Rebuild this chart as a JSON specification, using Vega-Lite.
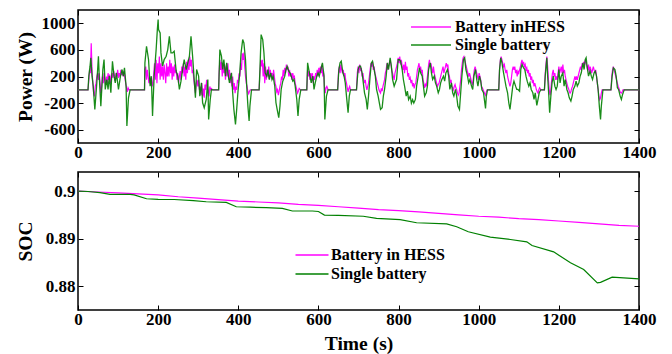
{
"$schema": "https://vega.github.io/schema/vega-lite/v6.json",
"padding": {"left": 14, "top": 8, "right": 5, "bottom": 0},
"background": "white",
"config": {
 "view": {"stroke": "#000", "strokeWidth": 1.5},
 "axis": {"labelFont": "Liberation Serif", "labelFontWeight": "bold", "labelFontSize": 17, "labelColor": "#000", "titleFont": "Liberation Serif", "titleFontWeight": "bold", "titleFontSize": 19.5, "titleColor": "#000", "tickColor": "#000", "tickSize": -5, "tickWidth": 1, "domain": false, "grid": false, "labelPadding": 8, "labelFlush": false, "labelOverlap": false},
 "legend": {"labelFont": "Liberation Serif", "labelFontWeight": "bold", "labelFontSize": 16, "labelColor": "#000", "padding": 0, "symbolType": "M-3,0H3", "symbolStrokeWidth": 1.5, "title": null, "rowPadding": 2}
},
"datasets": {
"pg": [{"t":0,"v":0},{"t":25,"v":0},{"t":27,"v":205},{"t":30,"v":355},{"t":32,"v":480},{"t":35,"v":205},{"t":38,"v":55},{"t":42,"v":-295},{"t":47,"v":105},{"t":51,"v":505},{"t":53,"v":205},{"t":57,"v":-245},{"t":62,"v":305},{"t":65,"v":455},{"t":68,"v":5},{"t":72,"v":155},{"t":75,"v":5},{"t":78,"v":205},{"t":82,"v":-45},{"t":86,"v":430},{"t":90,"v":205},{"t":93,"v":105},{"t":96,"v":255},{"t":101,"v":5},{"t":106,"v":205},{"t":110,"v":305},{"t":113,"v":205},{"t":116,"v":330},{"t":120,"v":55},{"t":122,"v":-545},{"t":126,"v":-120},{"t":130,"v":0},{"t":166,"v":0},{"t":167,"v":405},{"t":171,"v":655},{"t":176,"v":455},{"t":180,"v":55},{"t":183,"v":205},{"t":186,"v":-395},{"t":190,"v":205},{"t":195,"v":605},{"t":198,"v":905},{"t":200,"v":1055},{"t":201,"v":905},{"t":205,"v":855},{"t":207,"v":555},{"t":211,"v":355},{"t":215,"v":455},{"t":220,"v":505},{"t":224,"v":605},{"t":228,"v":805},{"t":232,"v":555},{"t":236,"v":555},{"t":240,"v":580},{"t":245,"v":280},{"t":249,"v":205},{"t":253,"v":5},{"t":257,"v":130},{"t":261,"v":305},{"t":265,"v":455},{"t":270,"v":305},{"t":274,"v":405},{"t":278,"v":505},{"t":282,"v":805},{"t":286,"v":505},{"t":290,"v":155},{"t":293,"v":-120},{"t":296,"v":305},{"t":301,"v":205},{"t":304,"v":-95},{"t":308,"v":105},{"t":311,"v":-195},{"t":315,"v":-270},{"t":320,"v":-145},{"t":324,"v":155},{"t":326,"v":-445},{"t":330,"v":-145},{"t":333,"v":5},{"t":336,"v":0},{"t":351,"v":0},{"t":354,"v":605},{"t":358,"v":505},{"t":361,"v":305},{"t":364,"v":455},{"t":368,"v":205},{"t":371,"v":405},{"t":374,"v":255},{"t":378,"v":105},{"t":383,"v":255},{"t":386,"v":-45},{"t":389,"v":-295},{"t":393,"v":-520},{"t":396,"v":-295},{"t":399,"v":-45},{"t":403,"v":205},{"t":407,"v":555},{"t":411,"v":755},{"t":414,"v":705},{"t":418,"v":455},{"t":421,"v":55},{"t":424,"v":-245},{"t":427,"v":-470},{"t":429,"v":-245},{"t":433,"v":0},{"t":452,"v":0},{"t":454,"v":305},{"t":457,"v":830},{"t":461,"v":755},{"t":464,"v":555},{"t":467,"v":255},{"t":471,"v":205},{"t":474,"v":305},{"t":477,"v":155},{"t":481,"v":255},{"t":484,"v":155},{"t":487,"v":205},{"t":491,"v":55},{"t":494,"v":-195},{"t":497,"v":-295},{"t":501,"v":-420},{"t":504,"v":-245},{"t":507,"v":5},{"t":511,"v":130},{"t":516,"v":205},{"t":519,"v":305},{"t":522,"v":355},{"t":526,"v":280},{"t":529,"v":255},{"t":532,"v":205},{"t":536,"v":130},{"t":539,"v":155},{"t":542,"v":55},{"t":546,"v":-145},{"t":549,"v":-395},{"t":552,"v":-145},{"t":556,"v":0},{"t":571,"v":0},{"t":573,"v":405},{"t":576,"v":305},{"t":579,"v":205},{"t":582,"v":105},{"t":586,"v":205},{"t":589,"v":5},{"t":592,"v":105},{"t":596,"v":205},{"t":599,"v":255},{"t":602,"v":205},{"t":606,"v":305},{"t":610,"v":405},{"t":614,"v":205},{"t":616,"v":-445},{"t":620,"v":-95},{"t":624,"v":0},{"t":648,"v":0},{"t":651,"v":305},{"t":654,"v":405},{"t":657,"v":430},{"t":661,"v":255},{"t":664,"v":205},{"t":667,"v":105},{"t":670,"v":-95},{"t":674,"v":-345},{"t":677,"v":-95},{"t":680,"v":0},{"t":695,"v":0},{"t":699,"v":305},{"t":702,"v":355},{"t":705,"v":355},{"t":709,"v":255},{"t":712,"v":105},{"t":715,"v":-45},{"t":719,"v":-145},{"t":722,"v":-295},{"t":725,"v":-95},{"t":729,"v":205},{"t":732,"v":405},{"t":735,"v":430},{"t":739,"v":305},{"t":742,"v":205},{"t":745,"v":5},{"t":749,"v":-95},{"t":752,"v":-195},{"t":755,"v":-295},{"t":759,"v":-270},{"t":762,"v":-95},{"t":765,"v":5},{"t":769,"v":205},{"t":772,"v":405},{"t":775,"v":305},{"t":779,"v":480},{"t":782,"v":355},{"t":785,"v":155},{"t":789,"v":55},{"t":792,"v":105},{"t":795,"v":155},{"t":799,"v":455},{"t":802,"v":455},{"t":805,"v":430},{"t":809,"v":305},{"t":812,"v":155},{"t":815,"v":55},{"t":819,"v":-95},{"t":822,"v":-20},{"t":825,"v":-145},{"t":829,"v":-95},{"t":832,"v":-200},{"t":835,"v":-150},{"t":838,"v":-200},{"t":842,"v":-145},{"t":845,"v":55},{"t":849,"v":205},{"t":852,"v":330},{"t":855,"v":255},{"t":859,"v":205},{"t":862,"v":55},{"t":865,"v":-95},{"t":869,"v":-45},{"t":872,"v":55},{"t":875,"v":305},{"t":879,"v":405},{"t":882,"v":255},{"t":885,"v":155},{"t":889,"v":205},{"t":892,"v":105},{"t":895,"v":55},{"t":899,"v":-45},{"t":902,"v":5},{"t":905,"v":105},{"t":908,"v":155},{"t":912,"v":205},{"t":915,"v":130},{"t":918,"v":255},{"t":922,"v":305},{"t":925,"v":205},{"t":928,"v":5},{"t":932,"v":105},{"t":935,"v":-45},{"t":938,"v":-95},{"t":942,"v":5},{"t":945,"v":-95},{"t":948,"v":-245},{"t":952,"v":-295},{"t":955,"v":-45},{"t":958,"v":205},{"t":962,"v":455},{"t":965,"v":480},{"t":968,"v":305},{"t":972,"v":205},{"t":975,"v":105},{"t":978,"v":155},{"t":982,"v":55},{"t":985,"v":5},{"t":988,"v":205},{"t":992,"v":305},{"t":995,"v":155},{"t":998,"v":55},{"t":1002,"v":205},{"t":1005,"v":130},{"t":1008,"v":0},{"t":1012,"v":-45},{"t":1017,"v":-280},{"t":1019,"v":-95},{"t":1022,"v":0},{"t":1050,"v":0},{"t":1052,"v":305},{"t":1055,"v":480},{"t":1058,"v":405},{"t":1062,"v":255},{"t":1065,"v":155},{"t":1068,"v":55},{"t":1072,"v":-45},{"t":1075,"v":-195},{"t":1078,"v":-295},{"t":1082,"v":-95},{"t":1085,"v":55},{"t":1088,"v":130},{"t":1092,"v":55},{"t":1095,"v":5},{"t":1098,"v":5},{"t":1102,"v":-20},{"t":1105,"v":305},{"t":1108,"v":380},{"t":1112,"v":330},{"t":1115,"v":305},{"t":1118,"v":205},{"t":1121,"v":130},{"t":1125,"v":55},{"t":1128,"v":105},{"t":1131,"v":5},{"t":1135,"v":-45},{"t":1138,"v":-145},{"t":1141,"v":-45},{"t":1145,"v":-235},{"t":1148,"v":-145},{"t":1151,"v":-45},{"t":1155,"v":0},{"t":1164,"v":0},{"t":1166,"v":205},{"t":1170,"v":480},{"t":1172,"v":205},{"t":1175,"v":-95},{"t":1177,"v":-345},{"t":1180,"v":-95},{"t":1183,"v":105},{"t":1186,"v":205},{"t":1190,"v":55},{"t":1193,"v":5},{"t":1196,"v":55},{"t":1200,"v":305},{"t":1203,"v":105},{"t":1206,"v":205},{"t":1210,"v":255},{"t":1213,"v":55},{"t":1216,"v":155},{"t":1220,"v":5},{"t":1223,"v":-45},{"t":1226,"v":-120},{"t":1230,"v":-170},{"t":1233,"v":-95},{"t":1236,"v":5},{"t":1240,"v":55},{"t":1243,"v":130},{"t":1246,"v":55},{"t":1250,"v":105},{"t":1253,"v":205},{"t":1256,"v":255},{"t":1260,"v":405},{"t":1263,"v":305},{"t":1266,"v":455},{"t":1268,"v":480},{"t":1271,"v":330},{"t":1274,"v":205},{"t":1278,"v":280},{"t":1281,"v":205},{"t":1284,"v":155},{"t":1288,"v":255},{"t":1291,"v":280},{"t":1294,"v":205},{"t":1298,"v":5},{"t":1301,"v":-245},{"t":1304,"v":-445},{"t":1306,"v":-245},{"t":1310,"v":0},{"t":1330,"v":0},{"t":1333,"v":205},{"t":1336,"v":330},{"t":1340,"v":305},{"t":1343,"v":205},{"t":1346,"v":30},{"t":1349,"v":5},{"t":1353,"v":-95},{"t":1356,"v":-145},{"t":1359,"v":-70},{"t":1363,"v":0},{"t":1400,"v":0}],
"pm": [{"t":0,"v":0},{"t":25,"v":0},{"t":27,"v":150},{"t":29,"v":300},{"t":31,"v":250},{"t":33,"v":700},{"t":35,"v":300},{"t":37,"v":100},{"t":39,"v":-50},{"t":41,"v":-100},{"t":43,"v":50},{"t":45,"v":100},{"t":47,"v":200},{"t":49,"v":250},{"t":51,"v":150},{"t":53,"v":250},{"t":55,"v":100},{"t":57,"v":-50},{"t":59,"v":50},{"t":61,"v":200},{"t":63,"v":100},{"t":65,"v":250},{"t":67,"v":150},{"t":69,"v":80},{"t":71,"v":200},{"t":73,"v":100},{"t":75,"v":250},{"t":77,"v":150},{"t":79,"v":230},{"t":81,"v":100},{"t":83,"v":200},{"t":85,"v":250},{"t":87,"v":180},{"t":89,"v":280},{"t":91,"v":200},{"t":93,"v":130},{"t":95,"v":250},{"t":97,"v":200},{"t":99,"v":300},{"t":101,"v":180},{"t":103,"v":250},{"t":105,"v":200},{"t":107,"v":300},{"t":109,"v":220},{"t":111,"v":260},{"t":113,"v":200},{"t":115,"v":280},{"t":117,"v":180},{"t":119,"v":100},{"t":121,"v":30},{"t":123,"v":-30},{"t":125,"v":30},{"t":127,"v":0},{"t":166,"v":0},{"t":167,"v":300},{"t":169,"v":350},{"t":171,"v":150},{"t":173,"v":300},{"t":175,"v":200},{"t":177,"v":100},{"t":179,"v":200},{"t":181,"v":80},{"t":183,"v":180},{"t":185,"v":50},{"t":187,"v":100},{"t":189,"v":250},{"t":191,"v":400},{"t":193,"v":150},{"t":195,"v":450},{"t":197,"v":100},{"t":199,"v":400},{"t":201,"v":250},{"t":203,"v":500},{"t":205,"v":150},{"t":207,"v":400},{"t":209,"v":200},{"t":211,"v":350},{"t":213,"v":150},{"t":215,"v":380},{"t":217,"v":250},{"t":219,"v":100},{"t":221,"v":400},{"t":223,"v":200},{"t":225,"v":350},{"t":227,"v":200},{"t":229,"v":450},{"t":231,"v":250},{"t":233,"v":400},{"t":235,"v":150},{"t":237,"v":350},{"t":239,"v":200},{"t":241,"v":380},{"t":243,"v":250},{"t":245,"v":300},{"t":247,"v":150},{"t":249,"v":250},{"t":251,"v":100},{"t":253,"v":200},{"t":255,"v":280},{"t":257,"v":150},{"t":259,"v":350},{"t":261,"v":250},{"t":263,"v":400},{"t":265,"v":200},{"t":267,"v":350},{"t":269,"v":150},{"t":271,"v":420},{"t":273,"v":250},{"t":275,"v":450},{"t":277,"v":300},{"t":279,"v":500},{"t":281,"v":350},{"t":283,"v":450},{"t":285,"v":250},{"t":287,"v":300},{"t":289,"v":150},{"t":291,"v":50},{"t":293,"v":-50},{"t":295,"v":100},{"t":297,"v":150},{"t":299,"v":50},{"t":301,"v":150},{"t":303,"v":0},{"t":305,"v":50},{"t":307,"v":-80},{"t":309,"v":100},{"t":311,"v":-100},{"t":313,"v":20},{"t":315,"v":-120},{"t":317,"v":80},{"t":319,"v":0},{"t":321,"v":150},{"t":323,"v":50},{"t":325,"v":0},{"t":327,"v":-100},{"t":329,"v":50},{"t":331,"v":0},{"t":333,"v":20},{"t":336,"v":0},{"t":351,"v":0},{"t":352,"v":250},{"t":354,"v":450},{"t":356,"v":300},{"t":358,"v":420},{"t":360,"v":200},{"t":362,"v":400},{"t":364,"v":250},{"t":366,"v":380},{"t":368,"v":150},{"t":370,"v":350},{"t":372,"v":200},{"t":374,"v":400},{"t":376,"v":150},{"t":378,"v":300},{"t":380,"v":100},{"t":382,"v":250},{"t":384,"v":50},{"t":386,"v":200},{"t":388,"v":0},{"t":390,"v":100},{"t":392,"v":-50},{"t":394,"v":50},{"t":396,"v":0},{"t":398,"v":150},{"t":400,"v":100},{"t":402,"v":250},{"t":404,"v":200},{"t":406,"v":400},{"t":408,"v":300},{"t":410,"v":550},{"t":412,"v":450},{"t":414,"v":560},{"t":416,"v":350},{"t":418,"v":200},{"t":420,"v":100},{"t":422,"v":50},{"t":424,"v":-30},{"t":426,"v":-60},{"t":428,"v":-20},{"t":430,"v":0},{"t":452,"v":0},{"t":454,"v":250},{"t":456,"v":450},{"t":458,"v":350},{"t":460,"v":450},{"t":462,"v":200},{"t":464,"v":400},{"t":466,"v":100},{"t":468,"v":350},{"t":470,"v":150},{"t":472,"v":300},{"t":474,"v":200},{"t":476,"v":350},{"t":478,"v":150},{"t":480,"v":300},{"t":482,"v":200},{"t":484,"v":250},{"t":486,"v":150},{"t":488,"v":300},{"t":490,"v":200},{"t":492,"v":100},{"t":494,"v":50},{"t":496,"v":-30},{"t":498,"v":0},{"t":500,"v":-80},{"t":502,"v":-20},{"t":504,"v":50},{"t":506,"v":100},{"t":508,"v":200},{"t":510,"v":150},{"t":512,"v":300},{"t":514,"v":200},{"t":516,"v":330},{"t":518,"v":250},{"t":520,"v":380},{"t":522,"v":300},{"t":524,"v":350},{"t":526,"v":200},{"t":528,"v":300},{"t":530,"v":200},{"t":532,"v":250},{"t":534,"v":150},{"t":536,"v":250},{"t":538,"v":180},{"t":540,"v":200},{"t":542,"v":100},{"t":544,"v":50},{"t":546,"v":0},{"t":548,"v":-50},{"t":550,"v":-20},{"t":552,"v":20},{"t":555,"v":0},{"t":571,"v":0},{"t":573,"v":300},{"t":575,"v":200},{"t":577,"v":280},{"t":579,"v":150},{"t":581,"v":250},{"t":583,"v":150},{"t":585,"v":250},{"t":587,"v":100},{"t":589,"v":200},{"t":591,"v":150},{"t":593,"v":250},{"t":595,"v":200},{"t":597,"v":300},{"t":599,"v":200},{"t":601,"v":330},{"t":603,"v":250},{"t":605,"v":350},{"t":607,"v":250},{"t":609,"v":380},{"t":611,"v":200},{"t":613,"v":250},{"t":615,"v":50},{"t":617,"v":-50},{"t":619,"v":30},{"t":621,"v":50},{"t":624,"v":0},{"t":648,"v":0},{"t":650,"v":250},{"t":652,"v":350},{"t":654,"v":250},{"t":656,"v":380},{"t":658,"v":300},{"t":660,"v":250},{"t":662,"v":300},{"t":664,"v":200},{"t":666,"v":250},{"t":668,"v":150},{"t":670,"v":100},{"t":672,"v":30},{"t":674,"v":-30},{"t":676,"v":20},{"t":678,"v":50},{"t":680,"v":0},{"t":695,"v":0},{"t":697,"v":250},{"t":699,"v":350},{"t":701,"v":250},{"t":703,"v":380},{"t":705,"v":300},{"t":707,"v":330},{"t":709,"v":200},{"t":711,"v":250},{"t":713,"v":150},{"t":715,"v":100},{"t":717,"v":150},{"t":719,"v":50},{"t":721,"v":0},{"t":723,"v":50},{"t":725,"v":100},{"t":727,"v":200},{"t":729,"v":300},{"t":731,"v":400},{"t":733,"v":350},{"t":735,"v":420},{"t":737,"v":300},{"t":739,"v":350},{"t":741,"v":250},{"t":743,"v":200},{"t":745,"v":150},{"t":747,"v":100},{"t":749,"v":50},{"t":751,"v":0},{"t":753,"v":-30},{"t":755,"v":-50},{"t":757,"v":20},{"t":759,"v":-20},{"t":761,"v":50},{"t":763,"v":100},{"t":765,"v":150},{"t":767,"v":250},{"t":769,"v":300},{"t":771,"v":400},{"t":773,"v":300},{"t":775,"v":350},{"t":777,"v":400},{"t":779,"v":450},{"t":781,"v":380},{"t":783,"v":300},{"t":785,"v":250},{"t":787,"v":200},{"t":789,"v":150},{"t":791,"v":250},{"t":793,"v":300},{"t":795,"v":350},{"t":797,"v":400},{"t":799,"v":480},{"t":801,"v":400},{"t":803,"v":500},{"t":805,"v":380},{"t":807,"v":450},{"t":809,"v":350},{"t":811,"v":300},{"t":813,"v":380},{"t":815,"v":250},{"t":817,"v":420},{"t":819,"v":300},{"t":821,"v":350},{"t":823,"v":200},{"t":825,"v":250},{"t":827,"v":150},{"t":829,"v":180},{"t":831,"v":100},{"t":833,"v":150},{"t":835,"v":50},{"t":837,"v":100},{"t":839,"v":20},{"t":841,"v":80},{"t":843,"v":100},{"t":845,"v":200},{"t":847,"v":300},{"t":849,"v":350},{"t":851,"v":400},{"t":853,"v":300},{"t":855,"v":350},{"t":857,"v":250},{"t":859,"v":300},{"t":861,"v":150},{"t":863,"v":100},{"t":865,"v":30},{"t":867,"v":80},{"t":869,"v":50},{"t":871,"v":150},{"t":873,"v":250},{"t":875,"v":380},{"t":877,"v":450},{"t":879,"v":350},{"t":881,"v":400},{"t":883,"v":300},{"t":885,"v":250},{"t":887,"v":350},{"t":889,"v":250},{"t":891,"v":200},{"t":893,"v":150},{"t":895,"v":100},{"t":897,"v":50},{"t":899,"v":80},{"t":901,"v":100},{"t":903,"v":150},{"t":905,"v":200},{"t":907,"v":250},{"t":909,"v":300},{"t":911,"v":350},{"t":913,"v":250},{"t":915,"v":300},{"t":917,"v":350},{"t":919,"v":400},{"t":921,"v":350},{"t":923,"v":380},{"t":925,"v":250},{"t":927,"v":200},{"t":929,"v":100},{"t":931,"v":150},{"t":933,"v":50},{"t":935,"v":30},{"t":937,"v":0},{"t":939,"v":50},{"t":941,"v":80},{"t":943,"v":30},{"t":945,"v":0},{"t":947,"v":-50},{"t":949,"v":-80},{"t":951,"v":-50},{"t":953,"v":50},{"t":955,"v":150},{"t":957,"v":300},{"t":959,"v":400},{"t":961,"v":480},{"t":963,"v":500},{"t":965,"v":450},{"t":967,"v":400},{"t":969,"v":350},{"t":971,"v":300},{"t":973,"v":250},{"t":975,"v":200},{"t":977,"v":250},{"t":979,"v":200},{"t":981,"v":150},{"t":983,"v":100},{"t":985,"v":80},{"t":987,"v":200},{"t":989,"v":300},{"t":991,"v":350},{"t":993,"v":300},{"t":995,"v":250},{"t":997,"v":200},{"t":999,"v":150},{"t":1001,"v":250},{"t":1003,"v":200},{"t":1005,"v":150},{"t":1007,"v":50},{"t":1009,"v":30},{"t":1011,"v":0},{"t":1013,"v":-30},{"t":1015,"v":-60},{"t":1017,"v":-80},{"t":1019,"v":-30},{"t":1021,"v":0},{"t":1050,"v":0},{"t":1052,"v":300},{"t":1054,"v":450},{"t":1056,"v":500},{"t":1058,"v":450},{"t":1060,"v":400},{"t":1062,"v":350},{"t":1064,"v":380},{"t":1066,"v":300},{"t":1068,"v":250},{"t":1070,"v":300},{"t":1072,"v":200},{"t":1074,"v":150},{"t":1076,"v":100},{"t":1078,"v":50},{"t":1080,"v":100},{"t":1082,"v":200},{"t":1084,"v":300},{"t":1086,"v":350},{"t":1088,"v":300},{"t":1090,"v":350},{"t":1092,"v":250},{"t":1094,"v":300},{"t":1096,"v":200},{"t":1098,"v":280},{"t":1100,"v":250},{"t":1102,"v":300},{"t":1104,"v":350},{"t":1106,"v":400},{"t":1108,"v":450},{"t":1110,"v":380},{"t":1112,"v":420},{"t":1114,"v":350},{"t":1116,"v":380},{"t":1118,"v":300},{"t":1120,"v":330},{"t":1122,"v":250},{"t":1124,"v":300},{"t":1126,"v":200},{"t":1128,"v":250},{"t":1130,"v":150},{"t":1132,"v":200},{"t":1134,"v":100},{"t":1136,"v":150},{"t":1138,"v":50},{"t":1140,"v":100},{"t":1142,"v":50},{"t":1144,"v":0},{"t":1146,"v":-30},{"t":1148,"v":-50},{"t":1150,"v":0},{"t":1152,"v":30},{"t":1155,"v":0},{"t":1164,"v":0},{"t":1166,"v":250},{"t":1168,"v":400},{"t":1170,"v":500},{"t":1172,"v":350},{"t":1174,"v":150},{"t":1176,"v":0},{"t":1178,"v":-80},{"t":1180,"v":0},{"t":1182,"v":150},{"t":1184,"v":250},{"t":1186,"v":300},{"t":1188,"v":200},{"t":1190,"v":250},{"t":1192,"v":150},{"t":1194,"v":200},{"t":1196,"v":150},{"t":1198,"v":250},{"t":1200,"v":350},{"t":1202,"v":250},{"t":1204,"v":300},{"t":1206,"v":350},{"t":1208,"v":250},{"t":1210,"v":380},{"t":1212,"v":250},{"t":1214,"v":300},{"t":1216,"v":200},{"t":1218,"v":150},{"t":1220,"v":100},{"t":1222,"v":50},{"t":1224,"v":20},{"t":1226,"v":-20},{"t":1228,"v":-50},{"t":1230,"v":-30},{"t":1232,"v":20},{"t":1234,"v":50},{"t":1236,"v":100},{"t":1238,"v":150},{"t":1240,"v":200},{"t":1242,"v":150},{"t":1244,"v":200},{"t":1246,"v":150},{"t":1248,"v":200},{"t":1250,"v":250},{"t":1252,"v":300},{"t":1254,"v":350},{"t":1256,"v":300},{"t":1258,"v":400},{"t":1260,"v":350},{"t":1262,"v":420},{"t":1264,"v":380},{"t":1266,"v":450},{"t":1268,"v":400},{"t":1270,"v":350},{"t":1272,"v":300},{"t":1274,"v":380},{"t":1276,"v":250},{"t":1278,"v":350},{"t":1280,"v":300},{"t":1282,"v":250},{"t":1284,"v":300},{"t":1286,"v":350},{"t":1288,"v":300},{"t":1290,"v":250},{"t":1292,"v":300},{"t":1294,"v":200},{"t":1296,"v":100},{"t":1298,"v":0},{"t":1300,"v":-100},{"t":1302,"v":-150},{"t":1304,"v":-120},{"t":1306,"v":-50},{"t":1308,"v":0},{"t":1330,"v":0},{"t":1332,"v":200},{"t":1334,"v":300},{"t":1336,"v":350},{"t":1338,"v":300},{"t":1340,"v":250},{"t":1342,"v":200},{"t":1344,"v":150},{"t":1346,"v":100},{"t":1348,"v":50},{"t":1350,"v":20},{"t":1352,"v":-20},{"t":1354,"v":-40},{"t":1356,"v":-50},{"t":1358,"v":-30},{"t":1360,"v":0},{"t":1400,"v":0}],
"sm": [{"t":0,"v":0.9},{"t":50,"v":0.8998},{"t":100,"v":0.8996},{"t":150,"v":0.8994},{"t":200,"v":0.8992},{"t":250,"v":0.8988},{"t":300,"v":0.8985},{"t":350,"v":0.8982},{"t":400,"v":0.8979},{"t":450,"v":0.8977},{"t":500,"v":0.8975},{"t":550,"v":0.8972},{"t":600,"v":0.897},{"t":650,"v":0.8967},{"t":700,"v":0.8964},{"t":750,"v":0.8961},{"t":800,"v":0.8959},{"t":850,"v":0.8956},{"t":900,"v":0.8953},{"t":950,"v":0.895},{"t":1000,"v":0.8947},{"t":1050,"v":0.8945},{"t":1100,"v":0.8942},{"t":1150,"v":0.894},{"t":1200,"v":0.8937},{"t":1250,"v":0.8934},{"t":1300,"v":0.8931},{"t":1350,"v":0.8928},{"t":1400,"v":0.8926}],
"sg": [{"t":0,"v":0.9},{"t":25,"v":0.8999},{"t":55,"v":0.89965},{"t":80,"v":0.8993},{"t":130,"v":0.8993},{"t":140,"v":0.8992},{"t":171,"v":0.89838},{"t":200,"v":0.89825},{"t":240,"v":0.89822},{"t":288,"v":0.898},{"t":320,"v":0.89775},{"t":370,"v":0.8976},{"t":395,"v":0.8967},{"t":430,"v":0.8966},{"t":470,"v":0.8965},{"t":510,"v":0.89635},{"t":535,"v":0.8958},{"t":585,"v":0.8958},{"t":600,"v":0.8957},{"t":615,"v":0.89495},{"t":650,"v":0.8949},{"t":712,"v":0.8947},{"t":745,"v":0.89425},{"t":804,"v":0.894},{"t":845,"v":0.89333},{"t":920,"v":0.8931},{"t":945,"v":0.89249},{"t":974,"v":0.89144},{"t":1029,"v":0.89032},{"t":1079,"v":0.88982},{"t":1120,"v":0.88933},{"t":1133,"v":0.88856},{"t":1187,"v":0.88722},{"t":1229,"v":0.88491},{"t":1262,"v":0.88351},{"t":1296,"v":0.8807},{"t":1304,"v":0.8808},{"t":1333,"v":0.8819},{"t":1400,"v":0.88154}]
},
"spacing": 9,
"resolve": {"scale": {"color": "independent"}},
"vconcat": [
 {
  "width": 561, "height": 133,
  "layer": [
   {"data": {"name": "pm"}, "mark": {"type": "line", "strokeWidth": 1.2},
    "encoding": {
     "x": {"field": "t", "type": "quantitative", "scale": {"domain": [0, 1400], "nice": false}, "axis": {"values": [0,200,400,600,800,1000,1200,1400], "title": null, "labelPadding": 6, "labelExpr": "'' + datum.value"}},
     "y": {"field": "v", "type": "quantitative", "scale": {"domain": [-800, 1200], "nice": false}, "axis": {"values": [-600,-200,200,600,1000], "title": "Power (W)", "titleX": -53, "titleBaseline": "middle", "labelExpr": "'' + datum.value"}},
     "color": {"datum": "Battery inHESS", "type": "nominal", "scale": {"domain": ["Battery inHESS", "Single battery"], "range": ["#ff00ff", "#008000"]},
      "legend": {"orient": "none", "legendX": 345, "legendY": 9, "symbolSize": 178, "labelOffset": 16}}
    }},
   {"data": {"name": "pg"}, "mark": {"type": "line", "strokeWidth": 1.3, "opacity": 0.9},
    "encoding": {
     "x": {"field": "t", "type": "quantitative", "axis": {"orient": "top", "values": [0,200,400,600,800,1000,1200,1400], "labels": false, "title": null}},
     "y": {"field": "v", "type": "quantitative", "axis": {"orient": "right", "values": [-600,-200,200,600,1000], "labels": false, "title": null}},
     "color": {"datum": "Single battery", "type": "nominal"}
    }}
  ],
  "resolve": {"axis": {"x": "independent", "y": "independent"}}
 },
 {
  "width": 561, "height": 138,
  "layer": [
   {"data": {"name": "sm"}, "mark": {"type": "line", "strokeWidth": 1.2},
    "encoding": {
     "x": {"field": "t", "type": "quantitative", "scale": {"domain": [0, 1400], "nice": false}, "axis": {"values": [0,200,400,600,800,1000,1200,1400], "title": "Time (s)", "labelPadding": 6, "titlePadding": 7, "labelExpr": "'' + datum.value"}},
     "y": {"field": "v", "type": "quantitative", "scale": {"domain": [0.875, 0.904], "nice": false, "zero": false}, "axis": {"values": [0.88, 0.89, 0.9], "format": ".2~f", "title": "SOC", "titleX": -53, "titleBaseline": "middle"}},
     "color": {"datum": "Battery in HESS", "type": "nominal", "scale": {"domain": ["Battery in HESS", "Single battery"], "range": ["#ff00ff", "#008000"]},
      "legend": {"orient": "none", "legendX": 226, "legendY": 75, "symbolSize": 121, "labelOffset": 11, "rowPadding": 3}}
    }},
   {"data": {"name": "sg"}, "mark": {"type": "line", "strokeWidth": 1.2},
    "encoding": {
     "x": {"field": "t", "type": "quantitative", "axis": {"orient": "top", "values": [0,200,400,600,800,1000,1200,1400], "labels": false, "title": null}},
     "y": {"field": "v", "type": "quantitative", "axis": {"orient": "right", "values": [0.88, 0.89, 0.9], "labels": false, "title": null}},
     "color": {"datum": "Single battery", "type": "nominal"}
    }}
  ],
  "resolve": {"axis": {"x": "independent", "y": "independent"}}
 }
]
}
